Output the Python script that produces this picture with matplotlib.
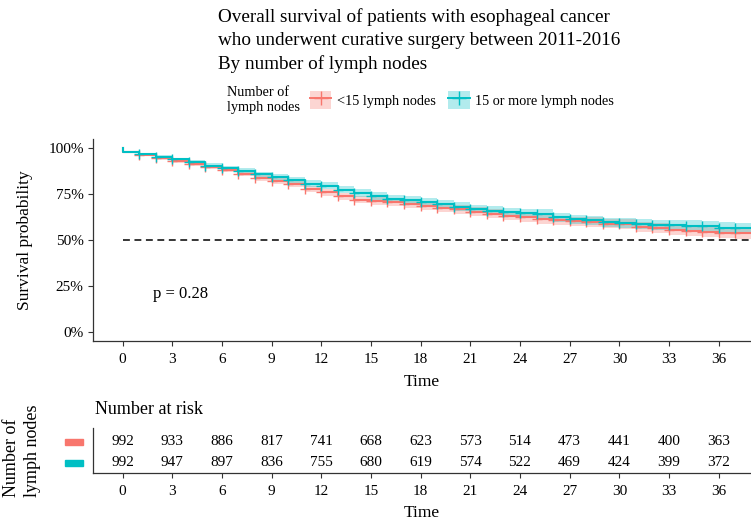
import numpy as np
import matplotlib
matplotlib.use("Agg")
import matplotlib.pyplot as plt
from matplotlib.patches import Patch, Rectangle
from matplotlib.lines import Line2D
from matplotlib.legend_handler import HandlerTuple
from matplotlib.ticker import FuncFormatter

plt.rcParams['font.family'] = ['Liberation Serif', 'DejaVu Serif']

# survival (%) after the drop at each month 0..37
months = list(range(0, 38))
surv_lt15 = [97.7, 96.3, 94.4, 92.6, 91.2, 89.6, 88.0, 86.0, 83.6, 81.8,
             80.2, 77.7, 75.8, 73.7, 71.8, 71.2, 70.5, 69.6, 68.3, 67.4,
             66.5, 65.3, 64.2, 63.1, 62.3, 61.1, 60.5, 60.0, 59.6, 58.7,
             58.3, 57.1, 56.6, 55.1, 55.0, 54.4, 53.9, 53.5]
surv_ge15 = [97.7, 96.6, 95.3, 93.7, 92.1, 90.3, 89.0, 87.6, 85.6, 84.3,
             82.7, 80.6, 79.3, 77.3, 75.5, 73.7, 72.4, 71.4, 70.5, 69.2,
             68.0, 66.7, 65.8, 65.0, 64.4, 64.0, 62.3, 61.1, 60.5, 59.4,
             59.0, 58.7, 58.2, 57.8, 57.7, 57.5, 56.6, 56.2]
# half width of the confidence band (%) per month
band_half = [0.5, 0.7, 0.9, 1.0, 1.1, 1.2, 1.3, 1.4, 1.5, 1.6,
             1.7, 1.8, 1.9, 2.0, 2.0, 2.1, 2.1, 2.2, 2.2, 2.3,
             2.3, 2.4, 2.4, 2.4, 2.5, 2.5, 2.5, 2.6, 2.6, 2.6,
             2.7, 2.7, 2.7, 2.8, 2.8, 2.8, 2.9, 2.9]
t_end = 38

risk_times = [0, 3, 6, 9, 12, 15, 18, 21, 24, 27, 30, 33, 36]
risk_lt15 = [992, 933, 886, 817, 741, 668, 623, 573, 514, 473, 441, 400, 363]
risk_ge15 = [992, 947, 897, 836, 755, 680, 619, 574, 522, 469, 424, 399, 372]

groups = ['<15 lymph nodes', '15 or more lymph nodes']
colors = ['#F8766D', '#00BFC4']
p_text = 'p = 0.28'

W, H = 751, 525
fig = plt.figure(figsize=(W / 100, H / 100), dpi=100)


def fx(px):
    return px / W


def fy(py):
    return 1 - py / H


ax = fig.add_axes([fx(92.7), fy(340.7), fx(W - 92.7), fy(138.7) - fy(340.7)])
xlim = (-1.8, 37.95)

curves = []
for surv, col in zip([surv_lt15, surv_ge15], colors):
    s = np.array(surv) / 100
    hw = np.array(band_half) / 100
    x = np.r_[0, months, t_end]
    y = np.r_[1.0, s, s[-1]]
    lo = np.r_[1.0, s - hw, s[-1] - hw[-1]]
    hi = np.r_[1.0, np.minimum(s + hw, 1.0), s[-1] + hw[-1]]
    ax.fill_between(x, lo, hi, step='post', color=col, alpha=0.3, lw=0)
    curves.append((x, y, s, col))
for x, y, s, col in curves:
    ax.step(x, y, where='post', color=col, lw=1.5)
    ax.plot(months[1:], s[1:], '+', color=col, ms=7, mew=1.0)

ax.axhline(0.5, xmin=(0 - xlim[0]) / (xlim[1] - xlim[0]), color='black',
           lw=1.1, ls=(0, (4.5, 3)))
ax.text(1.85, 0.205, p_text, fontsize=12, va='center', ha='left')

ax.set_xlim(*xlim)
ax.set_ylim(-0.05, 1.05)
ax.set_xticks(risk_times)
ax.set_yticks([0, 0.25, 0.5, 0.75, 1.0])
ax.yaxis.set_major_formatter(FuncFormatter(lambda v, _: f'{int(round(v * 100))}%'))
for sp in ['top', 'right']:
    ax.spines[sp].set_visible(False)
for sp in ['left', 'bottom']:
    ax.spines[sp].set_color('#333333')
    ax.spines[sp].set_linewidth(0.9)
ax.tick_params(labelsize=11, length=3.5, width=0.8, color='#333333', pad=3)
ax.tick_params(axis='x', pad=5)
ax.set_xlabel('Time', fontsize=12.5, labelpad=6)
fig.text(fx(25), fy(240), 'Survival probability', rotation=90,
         ha='center', va='center', fontsize=12.5)

# risk table
ax2 = fig.add_axes([fx(92.7), fy(473.3), fx(W - 92.7), fy(428) - fy(473.3)])
for i, t in enumerate(risk_times):
    ax2.text(t, 2, str(risk_lt15[i]), ha='center', va='center', fontsize=11)
    ax2.text(t, 1, str(risk_ge15[i]), ha='center', va='center', fontsize=11)
ax2.set_xlim(*xlim)
ax2.set_ylim(0.5, 2.65)
ax2.set_xticks(risk_times)
ax2.set_yticks([])
for sp in ['top', 'right']:
    ax2.spines[sp].set_visible(False)
for sp in ['left', 'bottom']:
    ax2.spines[sp].set_color('#333333')
    ax2.spines[sp].set_linewidth(0.9)
ax2.tick_params(labelsize=11, length=3.5, width=0.8, color='#333333', pad=5)
ax2.set_xlabel('Time', fontsize=12.5, labelpad=5)
for row, col in zip([2, 1], colors):
    ax2.add_patch(Rectangle((-0.042, row - 0.14), 0.027, 0.28, color=col,
                            transform=ax2.get_yaxis_transform(), clip_on=False))
fig.text(fx(95), fy(409), 'Number at risk', fontsize=13, ha='left', va='center')
fig.text(fx(22), fy(497), 'Number of\nlymph nodes', rotation=90, fontsize=13,
         ha='center', va='bottom', multialignment='left', linespacing=1.3)

# title and legend
fig.text(fx(218), fy(8), 'Overall survival of patients with esophageal cancer\n'
         'who underwent curative surgery between 2011-2016\n'
         'By number of lymph nodes', fontsize=13.8, ha='left', va='top',
         linespacing=1.45)
fig.text(fx(227), fy(100), 'Number of\nlymph nodes', fontsize=10.3,
         ha='left', va='center', linespacing=1.3)
handles = [(Patch(facecolor=c, alpha=0.3, lw=0),
            Line2D([], [], color=c, lw=1.4, marker='+', ms=10, mew=1.0))
           for c in colors]
fig.legend(handles, groups, handler_map={tuple: HandlerTuple(ndivide=1)},
           loc='center left', bbox_to_anchor=(fx(310), fy(100)), ncol=2,
           frameon=False, fontsize=10.3, handlelength=1.5, handleheight=1.5,
           handletextpad=0.4, columnspacing=0.85, borderpad=0, borderaxespad=0)

fig.savefig('out.png', dpi=100)
